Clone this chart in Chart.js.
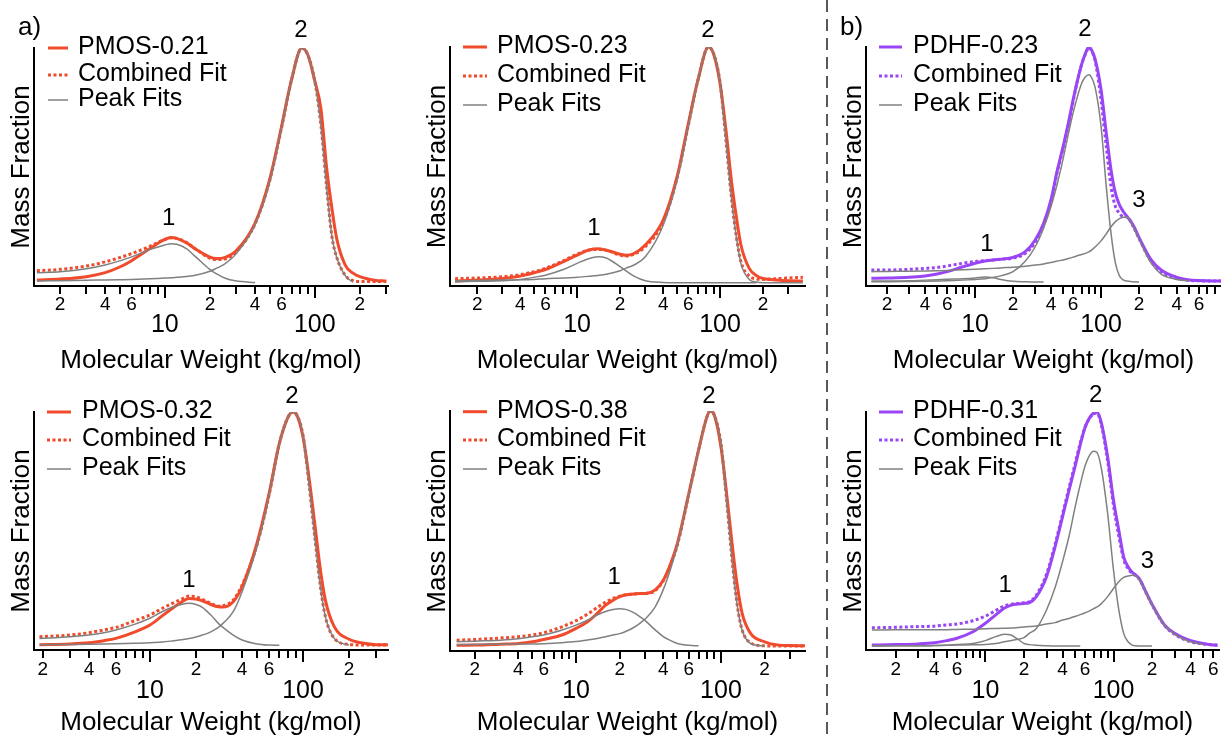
<!DOCTYPE html>
<html>
<head>
<meta charset="utf-8">
<script src="https://cdn.jsdelivr.net/npm/chart.js@4.4.1/dist/chart.umd.min.js"></script>
<style>
  body { margin: 0; background: #fff; width: 1221px; height: 736px; position: relative; overflow: hidden; }
  canvas { position: absolute; }
  svg { position: absolute; left: 0; top: 0; }
</style>
</head>
<body>
<svg width="1221" height="736"><line x1="827" y1="0" x2="827" y2="736" stroke="#222" stroke-width="1.5" stroke-dasharray="12 7"/></svg>
<canvas id="p1" width="410" height="375" style="left:0;top:0"></canvas>
<canvas id="p2" width="416" height="375" style="left:410px;top:0"></canvas>
<canvas id="p3" width="395" height="375" style="left:826px;top:0"></canvas>
<canvas id="p4" width="410" height="368" style="left:0;top:368px"></canvas>
<canvas id="p5" width="416" height="368" style="left:410px;top:368px"></canvas>
<canvas id="p6" width="395" height="368" style="left:826px;top:368px"></canvas>
<script>
// tick marks / labels on the molecular weight axis
var tickMarks = [2,3,4,5,6,7,8,9,10,20,30,40,50,60,70,80,90,100,200,300,400,500,600,700,800,900];
var labeledTicks = [2,4,6,20,40,60,200,400,600];
var majorTicks = [10, 100];

// PMOS-0.21
var mw1 = [1.4,2,3,4,5,6,8,10,11,12,14,16,20,22,25,30,40,50,60,70,82,90,100,110,120,130,140,160,180,200,250,300];
var pmos021 = [.013,.017,.027,.044,.068,.095,.148,.186,.194,.19,.17,.145,.11,.104,.108,.138,.255,.44,.665,.865,1,.97,.86,.74,.49,.32,.19,.075,.042,.027,.012,.008];
var fit021 = [.052,.058,.072,.09,.108,.125,.157,.185,.192,.19,.172,.145,.105,.1,.102,.133,.252,.435,.66,.865,1,.97,.86,.67,.41,.2,.11,.032,.01,.006,.006,.006];
var peak021a = [.044,.048,.061,.077,.094,.111,.143,.162,.167,.165,.145,.112,.057,.04,.021,.008,.002,null,null,null,null,null,null,null,null,null,null,null,null,null,null,null];
var peak021b = [.009,.01,.012,.013,.014,.015,.018,.021,.022,.024,.028,.033,.05,.062,.08,.125,.25,.43,.66,.865,1,.97,.86,.67,.41,.2,.11,.03,.004,null,null,null];

// PMOS-0.23
var mw2 = [1.4,2,3,4,5,6,8,10,12,14,16,20,22,25,30,40,50,60,70,83,90,100,110,120,130,140,160,180,200,250,300,380];
var pmos023 = [.007,.011,.018,.028,.042,.056,.089,.117,.138,.144,.138,.121,.116,.124,.16,.266,.449,.675,.859,1,.972,.845,.647,.435,.28,.16,.061,.03,.018,.011,.008,.007];
var fit023 = [.017,.02,.025,.034,.047,.061,.093,.121,.138,.141,.138,.117,.113,.121,.153,.258,.442,.668,.859,1,.972,.85,.605,.364,.195,.089,.028,.016,.014,.017,.02,.023];
var peak023a = [.004,.006,.008,.014,.023,.032,.056,.082,.102,.11,.105,.068,.05,.028,.008,.001,0,0,0,0,0,0,0,0,0,0,0,0,null,null,null,null];
var peak023b = [.008,.009,.011,.012,.014,.017,.02,.023,.027,.031,.036,.051,.062,.075,.11,.244,.435,.664,.859,1,.975,.852,.605,.364,.195,.082,.014,.003,0,0,0,0];

// PDHF-0.23
var mw3 = [1.5,2,3,4,5,6,8,10,12,14,16,20,25,30,35,40,45,50,55,60,65,70,75,80,85,90,100,110,120,130,140,150,160,180,200,250,300,400,500,600,900];
var pdhf023 = [.016,.017,.02,.026,.034,.044,.065,.08,.089,.094,.097,.105,.129,.179,.25,.349,.477,.577,.676,.776,.858,.925,.972,1,.982,.945,.818,.634,.477,.378,.328,.3,.28,.242,.19,.094,.051,.02,.009,.006,.004];
var fit023p = [.051,.051,.054,.058,.062,.068,.08,.087,.091,.094,.097,.101,.122,.168,.243,.342,.47,.57,.669,.768,.858,.925,.968,.996,.98,.938,.776,.577,.406,.321,.293,.278,.278,.236,.185,.087,.044,.016,.007,.005,.004];
var peak023pa = [.004,.004,.005,.008,.01,.012,.014,.017,.021,.018,.011,.003,.001,0,0,null,null,null,null,null,null,null,null,null,null,null,null,null,null,null,null,null,null,null,null,null,null,null,null,null,null];
var peak023pb = [.001,.001,.002,.003,.004,.005,.008,.011,.014,.02,.026,.044,.088,.15,.23,.32,.42,.525,.63,.72,.79,.845,.872,.882,.865,.825,.662,.406,.207,.08,.026,.009,.004,.001,0,null,null,null,null,null,null];
var peak023pc = [.044,.045,.046,.047,.048,.049,.052,.054,.056,.058,.06,.063,.067,.072,.077,.083,.089,.094,.1,.106,.112,.117,.122,.128,.138,.15,.175,.205,.235,.257,.27,.276,.277,.235,.182,.08,.034,.011,.004,null,null];

// PMOS-0.32
var mw4 = [1.9,3,4,5,6,8,10,12,14,16,18,20,22,25,28,30,35,40,50,60,70,80,86,90,100,110,120,130,140,160,200,250,300,360];
var pmos032 = [.003,.006,.011,.02,.03,.058,.087,.126,.158,.184,.201,.198,.191,.175,.165,.164,.187,.251,.437,.65,.864,.979,1,.993,.893,.708,.508,.322,.194,.08,.026,.009,.003,.002];
var fit032 = [.037,.044,.054,.066,.077,.106,.13,.158,.18,.197,.211,.208,.197,.18,.168,.17,.194,.258,.429,.643,.864,.979,1,.993,.9,.679,.451,.251,.123,.03,.004,.001,.001,.001];
var peak032a = [.029,.037,.044,.054,.066,.091,.116,.144,.163,.175,.18,.175,.163,.13,.094,.077,.044,.023,.006,.001,0,null,null,null,null,null,null,null,null,null,null,null,null,null];
var peak032b = [.003,.004,.005,.006,.007,.009,.011,.014,.019,.024,.029,.036,.044,.058,.077,.094,.144,.23,.422,.643,.864,.979,1,.993,.9,.679,.451,.251,.123,.03,.001,null,null,null];

// PMOS-0.38
var mw5 = [1.5,2,3,4,5,6,8,10,12,14,16,18,20,22,25,28,30,35,40,45,50,60,70,80,84,90,100,110,120,130,140,160,200,250,300,380];
var pmos038 = [.003,.004,.008,.011,.018,.028,.047,.075,.103,.139,.174,.195,.21,.217,.221,.224,.224,.238,.28,.351,.436,.649,.833,.975,1,.982,.847,.635,.422,.252,.139,.054,.018,.004,.002,.001];
var fit038 = [.025,.028,.034,.04,.047,.057,.082,.108,.136,.164,.187,.203,.212,.218,.221,.224,.224,.235,.278,.348,.429,.646,.833,.975,1,.982,.861,.606,.351,.167,.068,.014,.001,0,0,0];
var peak038a = [.018,.021,.025,.031,.04,.047,.068,.089,.11,.132,.147,.156,.159,.156,.142,.122,.108,.07,.04,.023,.011,.003,.001,null,null,null,null,null,null,null,null,null,null,null,null,null];
var peak038b = [.006,.007,.008,.009,.009,.01,.014,.019,.026,.032,.04,.047,.053,.062,.079,.1,.115,.165,.24,.33,.429,.646,.833,.975,1,.982,.861,.606,.351,.167,.068,.011,0,null,null,null];

// PDHF-0.31
var mw6 = [1.3,2,3,4,5,6,8,10,12,14,16,18,20,22,25,30,35,40,45,50,55,60,65,70,74,80,90,100,110,120,130,140,150,160,180,200,250,300,400,500,600,650];
var pdhf031 = [.004,.006,.009,.014,.023,.033,.061,.097,.132,.161,.175,.179,.182,.185,.211,.296,.424,.552,.666,.765,.86,.935,.975,.996,1,.958,.808,.623,.495,.381,.339,.315,.302,.285,.228,.178,.09,.054,.023,.011,.004,.003];
var fit031 = [.078,.08,.083,.085,.09,.094,.108,.128,.151,.171,.179,.182,.185,.189,.218,.307,.435,.563,.677,.777,.867,.935,.973,.993,.995,.95,.79,.6,.47,.37,.33,.31,.3,.284,.226,.176,.088,.05,.018,.009,.005,.004];
var peak031a = [.001,.001,.001,.002,.003,.006,.011,.023,.04,.05,.046,.028,.011,.006,.003,.001,0,0,0,0,0,null,null,null,null,null,null,null,null,null,null,null,null,null,null,null,null,null,null,null,null,null];
var peak031b = [0,.001,.001,.002,.003,.004,.005,.007,.011,.018,.024,.029,.036,.054,.075,.154,.25,.36,.47,.59,.69,.77,.815,.832,.828,.765,.566,.324,.154,.054,.018,.004,.001,0,0,0,null,null,null,null,null,null];
var peak031c = [.068,.069,.07,.07,.07,.071,.072,.074,.075,.076,.077,.079,.081,.083,.086,.094,.1,.111,.118,.126,.134,.142,.15,.16,.166,.18,.211,.246,.275,.293,.299,.302,.299,.282,.225,.175,.09,.051,.018,.007,null,null];

// peak number tags: [text, molecular weight, height]
var tags1 = [['1', 10.6, .275], ['2', 80.7, 1.075]];
var tags2 = [['1', 13.1, .23], ['2', 82.4, 1.07]];
var tags3 = [['1', 12.4, .16], ['2', 74.6, 1.073], ['3', 200, .348]];
var tags4 = [['1', 18, .278], ['2', 84.7, 1.066]];
var tags5 = [['1', 18.3, .292], ['2', 82.6, 1.062]];
var tags6 = [['1', 14.3, .26], ['2', 72.5, 1.071], ['3', 183.7, .362]];

var FONT = "'Liberation Sans', Arial, Helvetica, sans-serif";
var RED = '#f04b2c';
var PURPLE = '#9a46f4';
var GRAY = '#808080';

Chart.defaults.font.family = FONT;
Chart.defaults.color = '#000';

function pts(xs, ys) {
  return ys.map(function (y, i) { return { x: xs[i], y: y }; });
}

const panelText = {
  id: 'panelText',
  afterDraw(chart, args, opts) {
    const ctx = chart.ctx, a = chart.chartArea, xs = chart.scales.x;
    ctx.save();
    // longer tick marks at the decades
    ctx.strokeStyle = '#000';
    ctx.lineWidth = 2;
    majorTicks.forEach(function (v) {
      const px = Math.round(xs.getPixelForValue(v));
      ctx.beginPath();
      ctx.moveTo(px, a.bottom);
      ctx.lineTo(px, a.bottom + 12);
      ctx.stroke();
    });
    ctx.fillStyle = '#000';
    ctx.textBaseline = 'middle';
    ctx.font = '25px ' + FONT;
    chart.data.datasets.slice(0, 3).forEach(function (ds, i) {
      const y = a.top + opts.rows[i];
      ctx.beginPath();
      ctx.strokeStyle = ds.borderColor;
      ctx.lineWidth = ds.borderWidth;
      ctx.setLineDash(ds.borderDash || []);
      ctx.moveTo(a.left + opts.line[0], y);
      ctx.lineTo(a.left + opts.line[1], y);
      ctx.stroke();
      ctx.textAlign = 'left';
      ctx.fillText(ds.label, a.left + opts.textX, y - 1);
    });
    ctx.font = '24px ' + FONT;
    ctx.textAlign = 'center';
    opts.tags.forEach(function (t) {
      ctx.fillText(t[0], xs.getPixelForValue(t[1]), chart.scales.y.getPixelForValue(t[2]));
    });
    if (opts.letter) {
      ctx.font = '26px ' + FONT;
      ctx.textAlign = 'left';
      ctx.textBaseline = 'alphabetic';
      ctx.fillText(opts.letter[0], opts.letter[1], opts.letter[2]);
    }
    ctx.restore();
  }
};

function makePanel(p) {
  const datasets = [
    { label: p.name, data: pts(p.mw, p.data), borderColor: p.color, borderWidth: 3, order: 2 },
    { label: 'Combined Fit', data: pts(p.mw, p.fit), borderColor: p.color, borderWidth: 3, borderDash: [3, 2.5], order: 1 }
  ];
  p.peaks.forEach(function (pk, k) {
    datasets.push({ label: k === 0 ? 'Peak Fits' : 'Peak ' + (k + 1), data: pts(p.mw, pk), borderColor: GRAY, borderWidth: 1.5, order: 0 });
  });

  new Chart(p.id, {
    type: 'line',
    data: { datasets: datasets },
    options: {
      responsive: false,
      animation: false,
      events: [],
      layout: { padding: { top: p.padTop, right: p.padRight, left: 0, bottom: 0 } },
      elements: {
        point: { radius: 0 },
        line: { cubicInterpolationMode: 'monotone', fill: false }
      },
      plugins: {
        legend: { display: false },
        tooltip: { enabled: false },
        panelText: { rows: p.rows, line: p.line, textX: p.textX, tags: p.tags, letter: p.letter }
      },
      scales: {
        x: {
          type: 'logarithmic', position: 'bottom', min: p.min, max: p.max,
          afterBuildTicks: function (s) {
            s.ticks = tickMarks.filter(function (v) { return v > p.min && v < p.max; }).map(function (v) { return { value: v }; });
          },
          afterFit: function (s) { s.height = 27; },
          ticks: {
            autoSkip: false, maxRotation: 0, minRotation: 0, padding: p.minorPad, color: '#000',
            font: { size: 19, lineHeight: 1 },
            callback: function (v) { return labeledTicks.indexOf(v) >= 0 ? String(v).charAt(0) : ''; }
          },
          grid: { drawOnChartArea: false, drawTicks: true, tickLength: 8, color: '#000', lineWidth: 2 },
          border: { display: true, color: '#000', width: 2 }
        },
        x2: {
          type: 'logarithmic', position: 'bottom', min: p.min, max: p.max,
          afterBuildTicks: function (s) {
            s.ticks = majorTicks.map(function (v) { return { value: v }; });
          },
          afterFit: function (s) { s.height = p.h2; },
          ticks: {
            autoSkip: false, maxRotation: 0, minRotation: 0, padding: p.majorPad, color: '#000',
            font: { size: 25, lineHeight: 1 },
            callback: function (v) { return String(v); }
          },
          grid: { display: false, drawTicks: false },
          border: { display: false },
          title: {
            display: true, text: 'Molecular Weight (kg/mol)', color: '#000',
            font: { size: 26, lineHeight: 1 }, padding: { top: 0, bottom: p.titlePad }
          }
        },
        y: {
          min: p.ymin, max: 1,
          afterFit: function (s) { s.width = p.yWidth; },
          ticks: { display: false },
          grid: { display: false, drawTicks: false },
          border: { display: true, color: '#000', width: 2 },
          title: {
            display: true, text: 'Mass Fraction', color: '#000',
            font: { size: 26, lineHeight: 1 }, padding: { top: p.yTitlePad, bottom: 0 }
          }
        }
      }
    },
    plugins: [panelText]
  });
}

makePanel({ id: 'p1', name: 'PMOS-0.21', color: RED, mw: mw1, data: pmos021, fit: fit021, peaks: [peak021a, peak021b],
  tags: tags1, min: 1.34, max: 308, ymin: -0.0128, padTop: 48, padRight: 22, yWidth: 34, yTitlePad: 9, h2: 62,
  minorPad: 1.5, majorPad: 0, titlePad: 1, rows: [0, 27, 52], line: [14, 34], textX: 44, letter: ['a)', 18, 35] });
makePanel({ id: 'p2', name: 'PMOS-0.23', color: RED, mw: mw2, data: pmos023, fit: fit023, peaks: [peak023a, peak023b],
  tags: tags2, min: 1.29, max: 393, ymin: -0.014, padTop: 47, padRight: 21, yWidth: 40, yTitlePad: 15, h2: 62,
  minorPad: 1.5, majorPad: 0, titlePad: 1, rows: [0, 29, 58], line: [13, 37], textX: 47 });
makePanel({ id: 'p3', name: 'PDHF-0.23', color: PURPLE, mw: mw3, data: pdhf023, fit: fit023p, peaks: [peak023pa, peak023pb, peak023pc],
  tags: tags3, min: 1.36, max: 896, ymin: -0.017, padTop: 47, padRight: 0, yWidth: 40, yTitlePad: 15, h2: 62,
  minorPad: 1.5, majorPad: 0, titlePad: 1, rows: [0, 29, 58], line: [13, 36], textX: 47, letter: ['b)', 14, 35] });
makePanel({ id: 'p4', name: 'PMOS-0.32', color: RED, mw: mw4, data: pmos032, fit: fit032, peaks: [peak032a, peak032b],
  tags: tags4, min: 1.75, max: 359, ymin: -0.02, padTop: 44, padRight: 22, yWidth: 34, yTitlePad: 9, h2: 59,
  minorPad: 2.5, majorPad: 1.5, titlePad: 0.5, rows: [0, 28, 57], line: [13, 37], textX: 48 });
makePanel({ id: 'p5', name: 'PMOS-0.38', color: RED, mw: mw5, data: pmos038, fit: fit038, peaks: [peak038a, peak038b],
  tags: tags5, min: 1.35, max: 380, ymin: -0.021, padTop: 43, padRight: 21, yWidth: 40, yTitlePad: 15, h2: 58,
  minorPad: 1.5, majorPad: 0.5, titlePad: 0.5, rows: [0.7, 29, 58], line: [13, 37], textX: 47 });
makePanel({ id: 'p6', name: 'PDHF-0.31', color: PURPLE, mw: mw6, data: pdhf031, fit: fit031, peaks: [peak031a, peak031b, peak031c],
  tags: tags6, min: 1.17, max: 664, ymin: -0.017, padTop: 44, padRight: 0, yWidth: 40, yTitlePad: 15, h2: 59,
  minorPad: 2.5, majorPad: 1.5, titlePad: 0.5, rows: [0, 28, 57], line: [13, 37], textX: 47 });
</script>
</body>
</html>
